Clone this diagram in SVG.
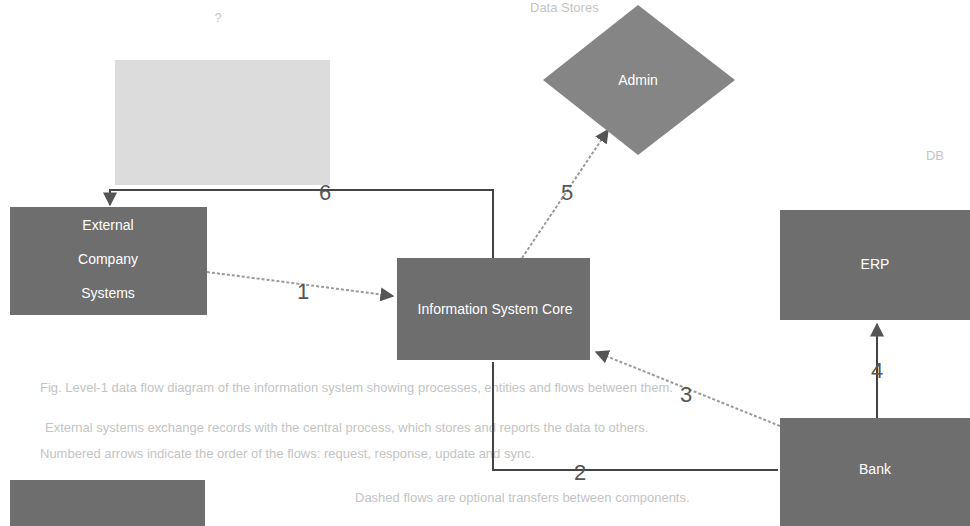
<svg xmlns="http://www.w3.org/2000/svg" width="970" height="526" viewBox="0 0 970 526">
<style>
.box{fill:#6e6e6e}
.dia{fill:#858585}
.pale{fill:#dcdcdc}
.lbl{font-family:"Liberation Sans",Arial,sans-serif;font-size:14px;fill:#ffffff;text-anchor:middle}
.num{font-family:"Liberation Sans",Arial,sans-serif;font-size:22px;fill:#555;text-anchor:middle}
.note{font-family:"Liberation Sans",Arial,sans-serif;font-size:13px;fill:#c4c4c4}
.dark{stroke:#444;stroke-width:2;fill:none}
.lite{stroke:#9a9a9a;stroke-width:2;fill:none;stroke-dasharray:3 2}
</style>
<defs>
<marker id="ah" viewBox="0 0 10 10" refX="9" refY="5" markerWidth="7" markerHeight="7" orient="auto-start-reverse">
<path d="M0,0 L10,5 L0,10 z" fill="#555"/>
</marker>
</defs>
<rect width="970" height="526" fill="#fff"/>
<g id="notes">
<text class="note" x="218" y="22" text-anchor="middle">?</text>
<text class="note" x="530" y="12">Data Stores</text>
<text class="note" x="935" y="160" text-anchor="middle">DB</text>
<text class="note" x="40" y="392">Fig. Level-1 data flow diagram of the information system showing processes, entities and flows between them.</text>
<text class="note" x="45" y="432">External systems exchange records with the central process, which stores and reports the data to others.</text>
<text class="note" x="40" y="458">Numbered arrows indicate the order of the flows: request, response, update and sync.</text>
<text class="note" x="355" y="502">Dashed flows are optional transfers between components.</text>
</g>
<g id="store">
<rect class="pale" x="115" y="60" width="215" height="125"/>
</g>
<g id="connectors">
<path class="lite" d="M207,272 L393,296" marker-end="url(#ah)"/>
<path class="dark" d="M493,362 L493,470 L778,470"/>
<path class="lite" d="M780,426 L596,352" marker-end="url(#ah)"/>
<path class="dark" d="M877,418 L877,324" marker-end="url(#ah)"/>
<path class="lite" d="M522,258 L608,130" marker-end="url(#ah)"/>
<path class="dark" d="M493,258 L493,190 L110,190 L110,205" marker-end="url(#ah)"/>
<text class="num" x="303" y="299">1</text>
<text class="num" x="580" y="480">2</text>
<text class="num" x="686" y="402">3</text>
<text class="num" x="877" y="378">4</text>
<text class="num" x="567" y="200">5</text>
<text class="num" x="325" y="200">6</text>
</g>
<g id="left-entity">
<rect class="box" x="10" y="207" width="197" height="108"/>
<text class="lbl" x="108" y="230">External</text>
<text class="lbl" x="108" y="264">Company</text>
<text class="lbl" x="108" y="298">Systems</text>
</g>
<g id="process">
<rect class="box" x="397" y="258" width="193" height="102"/>
<text class="lbl" x="495" y="314">Information System Core</text>
</g>
<g id="decision">
<polygon class="dia" points="638,5 735,80 638,155 543,80"/>
<text class="lbl" x="638" y="85">Admin</text>
</g>
<g id="right-top">
<rect class="box" x="780" y="210" width="190" height="110"/>
<text class="lbl" x="875" y="269">ERP</text>
</g>
<g id="right-bottom">
<rect class="box" x="780" y="418" width="190" height="108"/>
<text class="lbl" x="875" y="474">Bank</text>
</g>
<g id="bottom-left">
<rect class="box" x="10" y="480" width="195" height="46"/>
</g>
</svg>
